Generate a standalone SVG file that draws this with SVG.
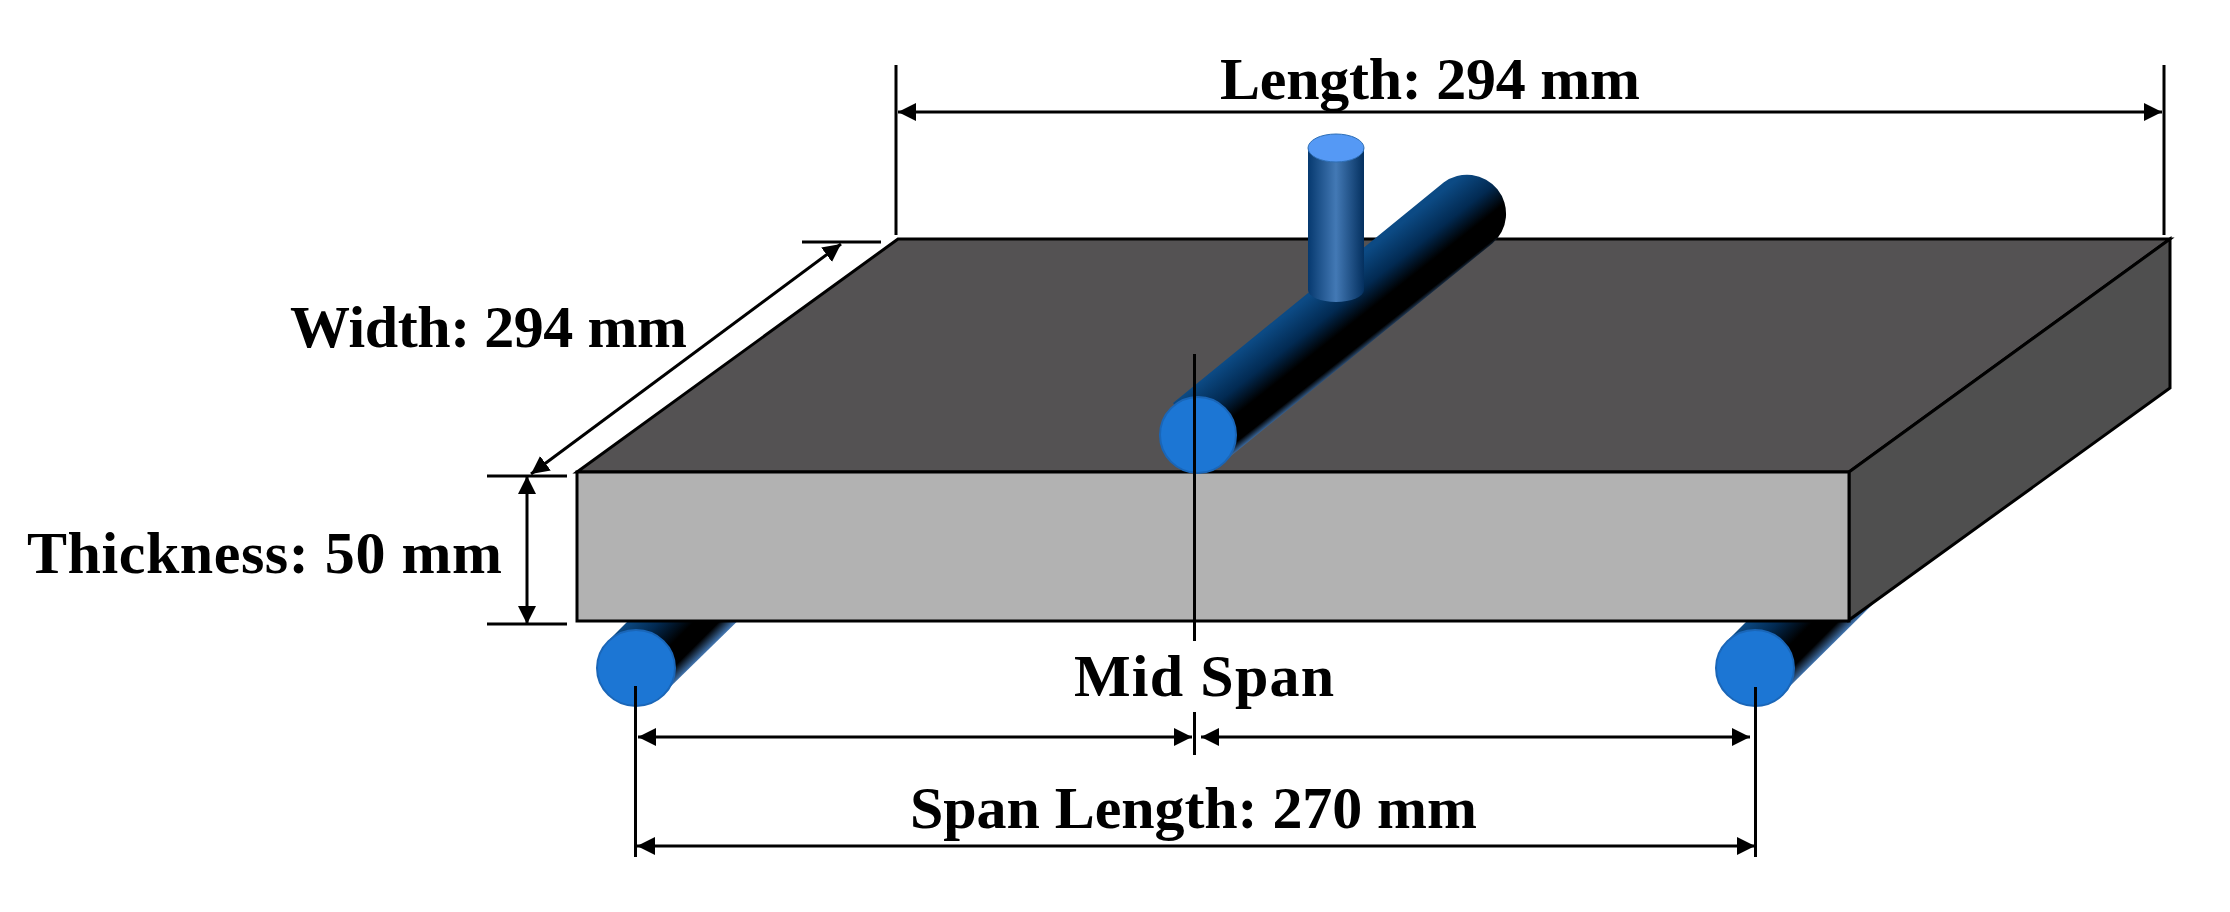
<svg xmlns="http://www.w3.org/2000/svg" width="2230" height="912" viewBox="0 0 2230 912">
<style>
.l{fill:none;stroke:#000;stroke-width:3}
.a{marker-start:url(#h);marker-end:url(#h)}
.f{stroke:#000;stroke-width:3;stroke-linejoin:miter}
text{font-family:"Liberation Serif","Times New Roman",serif;font-weight:bold;font-size:60px;fill:#000}
.e{fill:#1c76d4;stroke:#1a66b8;stroke-width:2}
</style>
<defs>
<marker id="h" markerUnits="userSpaceOnUse" markerWidth="18" markerHeight="18" refX="18" refY="9" orient="auto-start-reverse" viewBox="0 0 18 18"><path d="M0,0L18,9L0,18Z" fill="#000"/></marker>
<linearGradient id="gTop" gradientUnits="userSpaceOnUse" x1="1173" y1="403" x2="1221" y2="464"><stop offset="0" stop-color="#0c4a84"/><stop offset=".35" stop-color="#022a52"/><stop offset=".62" stop-color="#000"/><stop offset=".9" stop-color="#000"/><stop offset="1" stop-color="#3f70a8"/></linearGradient>
<linearGradient id="gL" gradientUnits="userSpaceOnUse" x1="610" y1="639" x2="664" y2="693"><stop offset="0" stop-color="#0c4a84"/><stop offset=".3" stop-color="#022a52"/><stop offset=".62" stop-color="#000"/><stop offset=".85" stop-color="#000"/><stop offset="1" stop-color="#3f70a8"/></linearGradient>
<linearGradient id="gR" gradientUnits="userSpaceOnUse" x1="1729" y1="639" x2="1783" y2="693"><stop offset="0" stop-color="#0c4a84"/><stop offset=".3" stop-color="#022a52"/><stop offset=".62" stop-color="#000"/><stop offset=".85" stop-color="#000"/><stop offset="1" stop-color="#3f70a8"/></linearGradient>
<linearGradient id="gV" x1="0" y1="0" x2="1" y2="0"><stop offset="0" stop-color="#06396f"/><stop offset=".5" stop-color="#4379b5"/><stop offset="1" stop-color="#04305f"/></linearGradient>
</defs>
<g id="support-left">
<path d="M610,639L700,549L755,604L664,693Z" fill="url(#gL)"/>
<ellipse class="e" cx="636" cy="668" rx="39" ry="38"/>
</g>
<g id="support-right">
<path d="M1729,639L1790,578L1877,600L1783,693Z" fill="url(#gR)"/>
<ellipse class="e" cx="1755" cy="668" rx="39" ry="38"/>
</g>
<g id="slab">
<path class="f" d="M898,239H2170L1849,472H577Z" fill="#545253"/>
<path class="f" d="M2170,239V388L1849,620V472Z" fill="#4f4f4f"/>
<rect class="f" x="577" y="472" width="1272" height="149" fill="#b2b2b2"/>
</g>
<g id="loading-bar">
<path d="M1173,403L1443.600,182.600A39,39 0 0 1 1492.400,243.400L1221,464Z" fill="url(#gTop)"/>
<ellipse class="e" cx="1198" cy="435" rx="38" ry="38"/>
</g>
<g id="load-cylinder">
<path d="M1308,148V290A28,12 0 0 0 1364,290V148Z" fill="url(#gV)"/>
<ellipse cx="1336" cy="148" rx="28" ry="14" fill="#5599f5" stroke="#2f6fb5" stroke-width="1"/>
</g>
<g id="connectors">
<path class="l" d="M896,65V235M2164,65V235"/>
<path class="l a" d="M898,112H2162"/>
<path class="l" d="M802,242H881M487,476H567M487,624H567"/>
<path class="l a" d="M531,474L841,244"/>
<path class="l a" d="M527,476V624"/>
<path class="l" d="M1194.500,354V641M1194.500,712V755M635.500,686V857M1755.500,687V857"/>
<path class="l a" d="M638,737H1192"/>
<path class="l a" d="M1201,737H1750"/>
<path class="l a" d="M637,846H1755"/>
</g>
<g id="labels">
<text x="1220" y="99" textLength="420">Length: 294 mm</text>
<text x="290" y="347" textLength="397">Width: 294 mm</text>
<text x="27" y="573" textLength="475">Thickness: 50 mm</text>
<text x="1074" y="696" textLength="260">Mid Span</text>
<text x="910" y="828" textLength="567">Span Length: 270 mm</text>
</g>
</svg>
